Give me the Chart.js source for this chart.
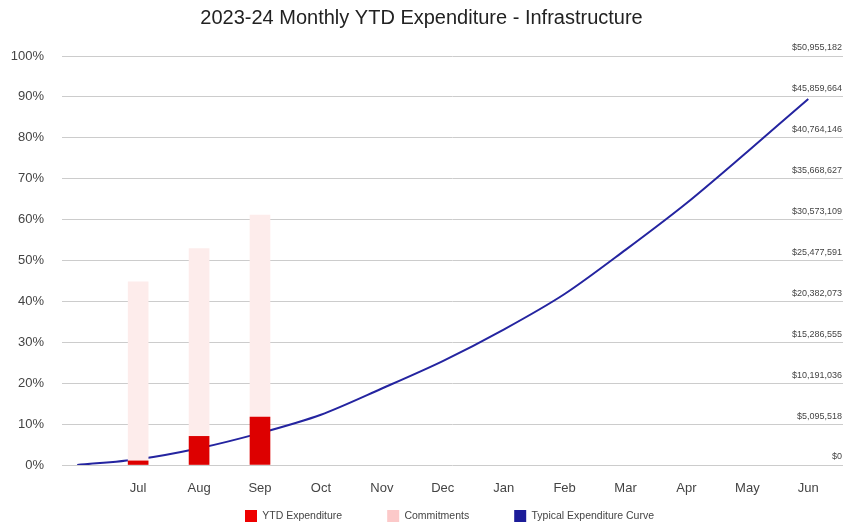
<!DOCTYPE html>
<html>
<head>
<meta charset="utf-8">
<script src="https://cdn.jsdelivr.net/npm/chart.js@4.4.1/dist/chart.umd.min.js"></script>
<style>
  html, body { margin: 0; padding: 0; background: #fff; }
  #wrap { width: 845px; height: 529px; }
</style>
</head>
<body>
<div id="wrap"><canvas id="ytd"></canvas></div>
<script>
// x positions: index 0 is the empty start point, then Jul..Jun
const months = ['', 'Jul', 'Aug', 'Sep', 'Oct', 'Nov', 'Dec', 'Jan', 'Feb', 'Mar', 'Apr', 'May', 'Jun'];

// percent of budget
const ytdExpenditure = [1.0, 7.0, 11.7];      // Jul, Aug, Sep
const commitments = [43.8, 45.9, 49.4];       // stacked on top of expenditure
const typicalCurve = [0, 1.4, 4.1, 7.8, 12.3, 18.7, 25.4, 33.1, 41.8, 52.6, 64.0, 76.6, 89.5];

const percentTicks = [0, 10, 20, 30, 40, 50, 60, 70, 80, 90, 100];
const dollarTicks = ['$0', '$5,095,518', '$10,191,036', '$15,286,555', '$20,382,073', '$25,477,591',
  '$30,573,109', '$35,668,627', '$40,764,146', '$45,859,664', '$50,955,182'];

const legendColours = ['#ee0000', '#fcc9c9', '#1c1c99'];
const font = 'Liberation Sans, Arial, sans-serif';

const toPoints = (vals, start) => vals.map((v, i) => ({ x: i + start, y: v }));

// legend items are spaced wide apart, so trim its box and pull it up
const legendFit = {
  id: 'legendFit',
  beforeLayout(chart) {
    const lg = chart.legend;
    if (lg && !lg._patched) {
      const fit = lg.fit.bind(lg);
      lg.fit = function () {
        fit();
        this.height = 32;
        this.lineWidths[0] -= 56; // nudge the row right a bit
      };
      lg._patched = true;
    }
  },
  afterLayout(chart) {
    const lg = chart.legend;
    if (lg) lg.top -= 32;
  }
};

const ctx = document.getElementById('ytd');
new Chart(ctx, {
  type: 'bar',
  data: {
    datasets: [
      {
        label: 'YTD Expenditure',
        data: toPoints(ytdExpenditure, 1),
        backgroundColor: '#dd0000',
        barThickness: 20,
        order: 1
      },
      {
        label: 'Commitments',
        data: toPoints(commitments, 1),
        backgroundColor: '#fdeceb',
        barThickness: 20,
        order: 1
      },
      {
        type: 'line',
        label: 'Typical Expenditure Curve',
        data: toPoints(typicalCurve, 0),
        borderColor: '#2424a0',
        backgroundColor: '#2424a0',
        borderWidth: 2,
        pointRadius: 0,
        tension: 0.3,
        fill: false,
        order: 2
      }
    ]
  },
  plugins: [legendFit],
  options: {
    responsive: true,
    maintainAspectRatio: false,
    animation: false,
    layout: { padding: { left: 0, right: 2, top: 0, bottom: 0 } },
    plugins: {
      title: {
        display: true,
        text: '2023-24 Monthly YTD Expenditure - Infrastructure',
        color: '#222',
        font: { family: font, size: 20, weight: 'normal' },
        padding: { top: 6, bottom: 26 }
      },
      legend: {
        position: 'bottom',
        labels: {
          color: '#444',
          font: { family: font, size: 10.5 },
          boxWidth: 12,
          boxHeight: 12,
          padding: 45,
          generateLabels: (chart) => {
            const items = Chart.defaults.plugins.legend.labels.generateLabels(chart);
            items.forEach((it, i) => {
              it.fillStyle = legendColours[i];
              it.strokeStyle = legendColours[i];
              it.lineWidth = 0;
            });
            return items;
          }
        }
      },
      tooltip: { enabled: false }
    },
    scales: {
      x: {
        type: 'linear',
        stacked: true,
        offset: false,
        min: -0.25,
        max: 12.57,
        afterFit: (axis) => { axis.height = 32; },
        grid: { display: false, offset: false },
        border: { display: false },
        ticks: {
          stepSize: 1,
          includeBounds: false,
          autoSkip: false,
          maxRotation: 0,
          padding: 8,
          color: '#444',
          font: { family: font, size: 13 },
          callback: (v) => (Number.isInteger(v) ? months[v] : '')
        }
      },
      y: {
        stacked: true,
        min: 0,
        max: 100,
        afterBuildTicks: (axis) => { axis.ticks = percentTicks.map(v => ({ value: v })); },
        afterFit: (axis) => { axis.width = 62; },
        grid: { color: '#cccccc', lineWidth: 1, drawTicks: false },
        border: { display: false },
        ticks: {
          padding: 18,
          color: '#444',
          font: { family: font, size: 13 },
          callback: (v) => v + '%'
        }
      },
      y2: {
        position: 'right',
        min: 0,
        max: 100,
        afterBuildTicks: (axis) => { axis.ticks = percentTicks.map(v => ({ value: v })); },
        afterFit: (axis) => { axis.width = 0; },
        grid: { display: false, drawTicks: false },
        border: { display: false },
        ticks: {
          mirror: true,
          padding: -1,
          labelOffset: -8,
          color: '#444',
          font: { family: font, size: 9 },
          callback: (v, i) => dollarTicks[i]
        }
      }
    }
  }
});
</script>
</body>
</html>
